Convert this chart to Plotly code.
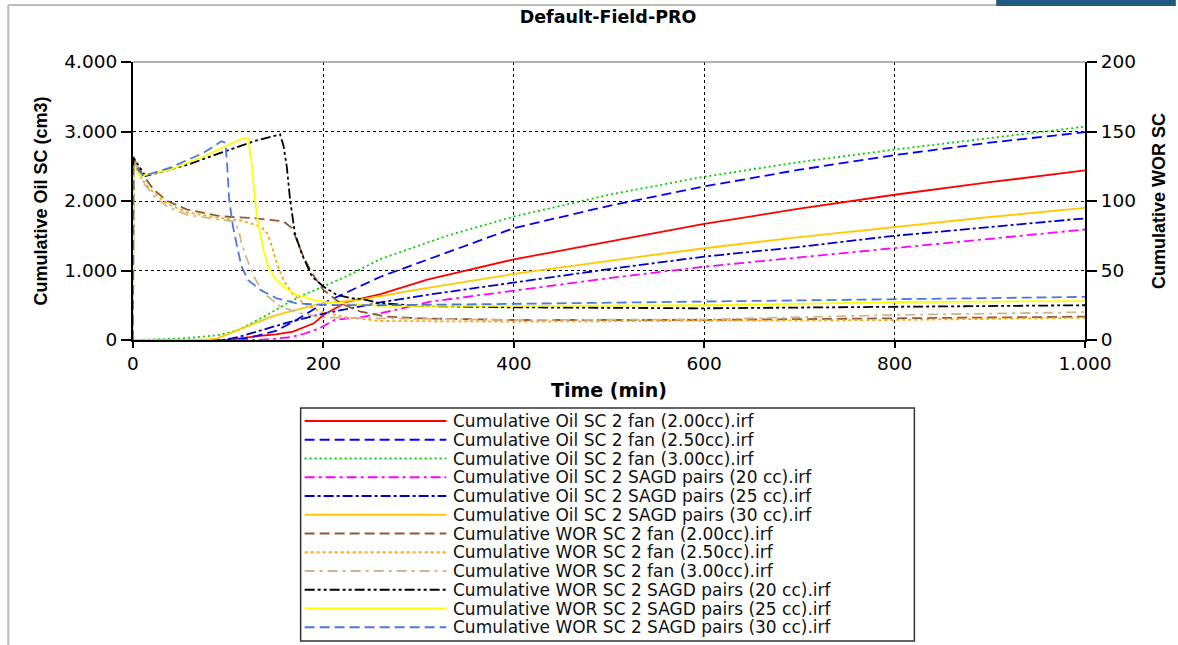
import plotly.graph_objects as go

# ---------------- data ----------------
names = [
    "Cumulative Oil SC 2 fan (2.00cc).irf",
    "Cumulative Oil SC 2 fan (2.50cc).irf",
    "Cumulative Oil SC 2 fan (3.00cc).irf",
    "Cumulative Oil SC 2 SAGD pairs (20 cc).irf",
    "Cumulative Oil SC 2 SAGD pairs (25 cc).irf",
    "Cumulative Oil SC 2 SAGD pairs (30 cc).irf",
    "Cumulative WOR SC 2 fan (2.00cc).irf",
    "Cumulative WOR SC 2 fan (2.50cc).irf",
    "Cumulative WOR SC 2 fan (3.00cc).irf",
    "Cumulative WOR SC 2 SAGD pairs (20 cc).irf",
    "Cumulative WOR SC 2 SAGD pairs (25 cc).irf",
    "Cumulative WOR SC 2 SAGD pairs (30 cc).irf",
]

# Cumulative oil (cm3) - left axis
t_oil_fan200 = [0, 50, 100, 133, 150, 168, 190, 200, 225, 260, 309, 400, 500, 600, 700, 800, 900, 1000]
oil_fan200 = [0, 0, 0, 60, 80, 120, 240, 360, 550, 660, 870, 1160, 1420, 1670, 1890, 2090, 2270, 2440]

t_oil_fan250 = [0, 100, 115, 130, 150, 172, 200, 234, 260, 294, 400, 500, 600, 700, 800, 900, 1000]
oil_fan250 = [0, 0, 20, 60, 130, 290, 530, 750, 910, 1080, 1610, 1930, 2210, 2450, 2660, 2840, 2990]

t_oil_fan300 = [0, 50, 90, 110, 127, 144, 162, 179, 200, 231, 259, 280, 330, 400, 500, 600, 700, 800, 900, 1000]
oil_fan300 = [0, 20, 70, 140, 260, 385, 530, 650, 770, 960, 1160, 1260, 1500, 1775, 2090, 2350, 2560, 2740, 2900, 3070]

t_oil_sagd20 = [0, 130, 150, 165, 180, 196, 212, 240, 275, 311, 400, 500, 600, 700, 800, 900, 1000]
oil_sagd20 = [0, 0, 20, 40, 90, 170, 290, 330, 430, 550, 710, 890, 1055, 1190, 1320, 1450, 1590]

t_oil_sagd25 = [0, 95, 110, 127, 144, 162, 185, 200, 230, 260, 309, 400, 500, 600, 700, 800, 900, 1000]
oil_sagd25 = [0, 0, 40, 110, 180, 250, 330, 380, 460, 540, 650, 825, 1020, 1200, 1340, 1500, 1630, 1750]

t_oil_sagd30 = [0, 70, 88, 109, 127, 144, 162, 183, 200, 235, 260, 300, 400, 500, 600, 700, 800, 900, 1000]
oil_sagd30 = [0, 0, 20, 140, 240, 330, 400, 470, 530, 575, 630, 730, 950, 1140, 1320, 1480, 1630, 1770, 1900]

# Cumulative WOR - right axis
t_wor_fan200 = [0, 0.5, 4, 11, 22, 36, 57, 92, 127, 158, 167, 172, 179, 188, 200, 218, 239, 266, 300, 400, 600, 800, 1000]
wor_fan200 = [0, 132, 126, 118, 108, 100, 93.8, 89, 87.7, 85.3, 80.5, 72, 60, 48, 36, 26.4, 20.4, 16.8, 15.6, 14.4, 14.4, 15.6, 16.8]

t_wor_fan250 = [0, 0.5, 11, 22, 36, 57, 92, 113, 134, 141, 146, 151, 158, 167, 179, 197, 225, 259, 400, 600, 800, 1000]
wor_fan250 = [0, 130, 114, 105.8, 98, 91.8, 87.7, 86, 81.7, 76.9, 67.3, 55.3, 43.3, 33.7, 26.4, 20.4, 16.3, 13.7, 13.2, 14, 14.4, 16]

t_wor_fan300 = [0, 0.5, 11, 22, 36, 57, 92, 106, 111, 114, 120, 127, 137, 155, 176, 197, 260, 400, 600, 800, 1000]
wor_fan300 = [0, 130, 113, 103.4, 96, 90, 86.5, 85.3, 79.3, 69.7, 57.7, 45.7, 33.7, 24, 19.2, 16.3, 15.6, 14.4, 14.8, 18, 20]

t_wor_sagd20 = [0, 0.5, 13, 57, 92, 127, 154.5, 158, 161.5, 165, 170, 177, 188, 200, 214, 230, 240, 260, 300, 400, 600, 800, 1000]
wor_sagd20 = [0, 131, 118, 126, 134.6, 143, 148, 140, 125, 101, 77, 62.5, 45.5, 38.5, 32.5, 30, 29.5, 26.5, 24.5, 23.5, 22.8, 24, 25]

t_wor_sagd25 = [0, 0.5, 8, 39, 74, 116, 121, 125, 128, 132, 137, 142, 149, 160, 172, 190, 204, 240, 260, 400, 600, 800, 1000]
wor_sagd25 = [0, 125, 118, 122.6, 132, 145.4, 144.7, 125, 101, 81.7, 65, 53, 44.5, 37.3, 32.5, 28.8, 27.2, 25.5, 24.5, 24.5, 25, 27.3, 28]

t_wor_sagd30 = [0, 0.5, 11, 39, 74, 93, 97, 99, 101, 105, 110, 114, 121, 134, 151, 172, 200, 260, 400, 600, 800, 1000]
wor_sagd30 = [0, 126, 118, 124, 134.6, 143, 142, 125, 101, 81.7, 65, 53, 43, 36, 30, 26.4, 25.2, 25, 26, 27.5, 29.5, 31]

times = [t_oil_fan200, t_oil_fan250, t_oil_fan300, t_oil_sagd20, t_oil_sagd25, t_oil_sagd30,
         t_wor_fan200, t_wor_fan250, t_wor_fan300, t_wor_sagd20, t_wor_sagd25, t_wor_sagd30]
values = [oil_fan200, oil_fan250, oil_fan300, oil_sagd20, oil_sagd25, oil_sagd30,
          wor_fan200, wor_fan250, wor_fan300, wor_sagd20, wor_sagd25, wor_sagd30]
axes = ["y", "y", "y", "y", "y", "y", "y2", "y2", "y2", "y2", "y2", "y2"]

x_ticks = [0, 200, 400, 600, 800, 1000]
y_ticks = [0, 1000, 2000, 3000, 4000]
y2_ticks = [0, 50, 100, 150, 200]

# ---------------- styles ----------------
colors = ["#FF0000", "#0000FF", "#00D000", "#FF00FF", "#0000C8", "#FFC800",
          "#8B5A3C", "#FFA500", "#D2B48C", "#000000", "#FFFF00", "#4A78DC"]
dashes = ["solid", "10px,5px", "2px,3px", "10px,4px,3px,4px", "10px,3px,3px,3px",
          "solid", "10px,5px", "3px,3px", "10px,5px,3px,5px",
          "10px,3px,3px,3px,3px,3px", "solid", "10px,5px"]

W, H = 1178, 645
L, R, T, B = 133, 1087, 62, 340  # plot area in pixels


def px(xp):
    return (xp - L) / (R - L)


def py(yp):
    return (B - yp) / (B - T)


fig = go.Figure()
for i in range(len(names)):
    fig.add_trace(go.Scatter(
        x=times[i], y=values[i], name=names[i], yaxis=axes[i], mode="lines",
        line=dict(color=colors[i], width=1.8, dash=dashes[i]),
        showlegend=False,
    ))

tick_font = dict(family="DejaVu Sans", size=18.5, color="black")

fig.update_layout(
    width=W, height=H,
    margin=dict(l=L, r=W - R, t=T, b=H - B),
    paper_bgcolor="white", plot_bgcolor="white",
    separators=",.",
    title=dict(text="Default-Field-PRO", x=(609 - L) / (R - L), xref="paper", xanchor="center",
               y=1 - 17 / H, yref="container", yanchor="middle",
               font=dict(family="DejaVu Sans", size=17.5, weight="bold", color="black")),
    xaxis=dict(range=[0, 1000], tickvals=x_ticks, separatethousands=True,
               showline=True, linecolor="black", linewidth=2,
               ticks="outside", ticklen=6, tickcolor="black", tickwidth=1.5,
               showgrid=True, gridcolor="black", griddash="dot", gridwidth=1,
               zeroline=False, tickfont=tick_font,
               title=dict(text="Time (min)", standoff=10,
                          font=dict(family="DejaVu Sans", size=19, weight="bold", color="black"))),
    yaxis=dict(range=[0, 4000], tickvals=y_ticks, separatethousands=True,
               showline=True, linecolor="black", linewidth=2,
               ticks="outside", ticklen=10, tickcolor="black", tickwidth=1.5,
               showgrid=True, gridcolor="black", griddash="dot", gridwidth=1,
               zeroline=False, tickfont=tick_font,
               title=dict(text="Cumulative Oil SC (cm3)", standoff=12,
                          font=dict(family="Liberation Sans", size=18, weight="bold", color="black"))),
    yaxis2=dict(range=[0, 200], tickvals=y2_ticks, overlaying="y", side="right",
                showline=True, linecolor="black", linewidth=2,
                ticks="outside", ticklen=10, tickcolor="black", tickwidth=1.5,
                showgrid=False, zeroline=False, tickfont=tick_font,
                title=dict(text="Cumulative WOR SC", standoff=17,
                           font=dict(family="Liberation Sans", size=18, weight="bold", color="black"))),
)

shapes = []
# top border of plot area (gray)
shapes.append(dict(type="line", xref="paper", yref="paper", x0=0, x1=1, y0=1, y1=1,
                   line=dict(color="#999999", width=1.5), layer="above"))
# outer image frame
shapes.append(dict(type="line", xref="paper", yref="paper", x0=px(8), x1=px(8), y0=py(5), y1=py(H),
                   line=dict(color="#BBBBBB", width=2)))
shapes.append(dict(type="line", xref="paper", yref="paper", x0=px(8), x1=px(998), y0=py(5), y1=py(5),
                   line=dict(color="#BBBBBB", width=2)))
shapes.append(dict(type="rect", xref="paper", yref="paper", x0=px(998), x1=px(W), y0=py(6), y1=py(0),
                   line=dict(width=0), fillcolor="#1F5A80"))

# legend box (drawn manually so the sample lines are long like the reference)
shapes.append(dict(type="rect", xref="paper", yref="paper", x0=px(301), x1=px(916), y0=py(641), y1=py(408),
                   line=dict(color="#333333", width=1.5), fillcolor="white"))
annotations = []
row0, row_step = 421, 18.75
for i in range(len(names)):
    yy = py(row0 + row_step * i)
    shapes.append(dict(type="line", xref="paper", yref="paper", x0=px(305), x1=px(447), y0=yy, y1=yy,
                       line=dict(color=colors[i], width=1.8, dash=dashes[i])))
    annotations.append(dict(text=names[i], xref="paper", yref="paper", x=px(453), y=yy,
                            xanchor="left", yanchor="middle", showarrow=False, borderpad=0,
                            font=dict(family="DejaVu Sans", size=17, color="#111111")))

fig.update_layout(shapes=shapes, annotations=annotations)

fig.write_html("out.html", config={"displayModeBar": False},
               post_script="document.body.style.margin='0';")
